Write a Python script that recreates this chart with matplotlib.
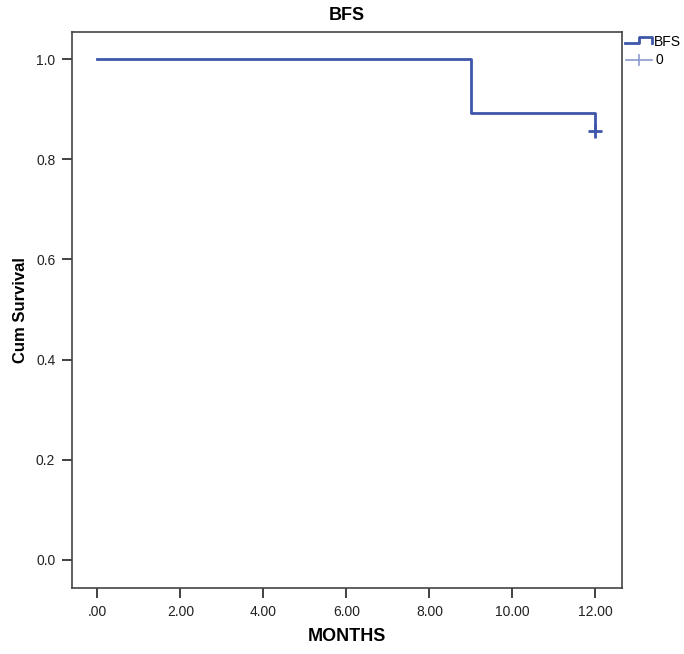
import numpy as np
import matplotlib.pyplot as plt
from matplotlib.lines import Line2D

plt.rcParams['font.family'] = ['Liberation Sans', 'DejaVu Sans']

# Kaplan-Meier step data
times = [0.0, 9.0, 12.0]
surv = [1.0, 0.893, 0.857]
censor_t = [12.0]
censor_s = [0.857]
xticks = [0, 2, 4, 6, 8, 10, 12]
xticklabels = ['.00', '2.00', '4.00', '6.00', '8.00', '10.00', '12.00']
yticks = [0.0, 0.2, 0.4, 0.6, 0.8, 1.0]

blue = '#3f56aa'
W, H = 684, 654
fig = plt.figure(figsize=(W / 100, H / 100), dpi=100)
ax = fig.add_axes([72 / W, 1 - 588 / H, 550 / W, 556 / H])

ax.step(times, surv, where='post', color=blue, lw=2)
ax.plot(censor_t, censor_s, '+', color=blue, ms=10, mew=2)

ax.set_xlim(-0.61, 12.64)
ax.set_ylim(-0.056, 1.054)
ax.set_xticks(xticks)
ax.set_xticklabels(xticklabels)
ax.set_yticks(yticks)
ax.set_yticklabels([f'{v:.1f}' for v in yticks])
ax.tick_params(length=7, width=1.3, color='#333333', labelsize=10, labelcolor='#222222', pad=5)
for s in ax.spines.values():
    s.set_color('#444444')
    s.set_linewidth(1.2)

ax.set_xlabel('MONTHS', fontsize=13, fontweight='bold', labelpad=7)
ax.set_ylabel('Cum Survival', fontsize=12, fontweight='bold', labelpad=6)
fig.text(0.5 * (72 + 622) / W, 1 - 16 / H, 'BFS', ha='center', va='center',
         fontsize=13, fontweight='bold')

# legend drawn in pixel coordinates (outside the axes, top right)
def px(x, y):
    return x / W, 1 - y / H

xs, ys = zip(*[px(625, 43), px(639, 43), px(639, 37), px(652, 37), px(652, 43)])
fig.add_artist(Line2D(xs, ys, color=blue, lw=2))
xs, ys = zip(px(626, 60), px(652, 60))
fig.add_artist(Line2D(xs, ys, color='#8c9ad0', lw=1.2))
xs, ys = zip(px(639, 55), px(639, 65))
fig.add_artist(Line2D(xs, ys, color='#8c9ad0', lw=1.2))
fig.text(*px(654, 42), 'BFS', fontsize=10, va='center', ha='left')
fig.text(*px(655, 60), '0', fontsize=10, va='center', ha='left')

fig.savefig('out.png', dpi=100)
